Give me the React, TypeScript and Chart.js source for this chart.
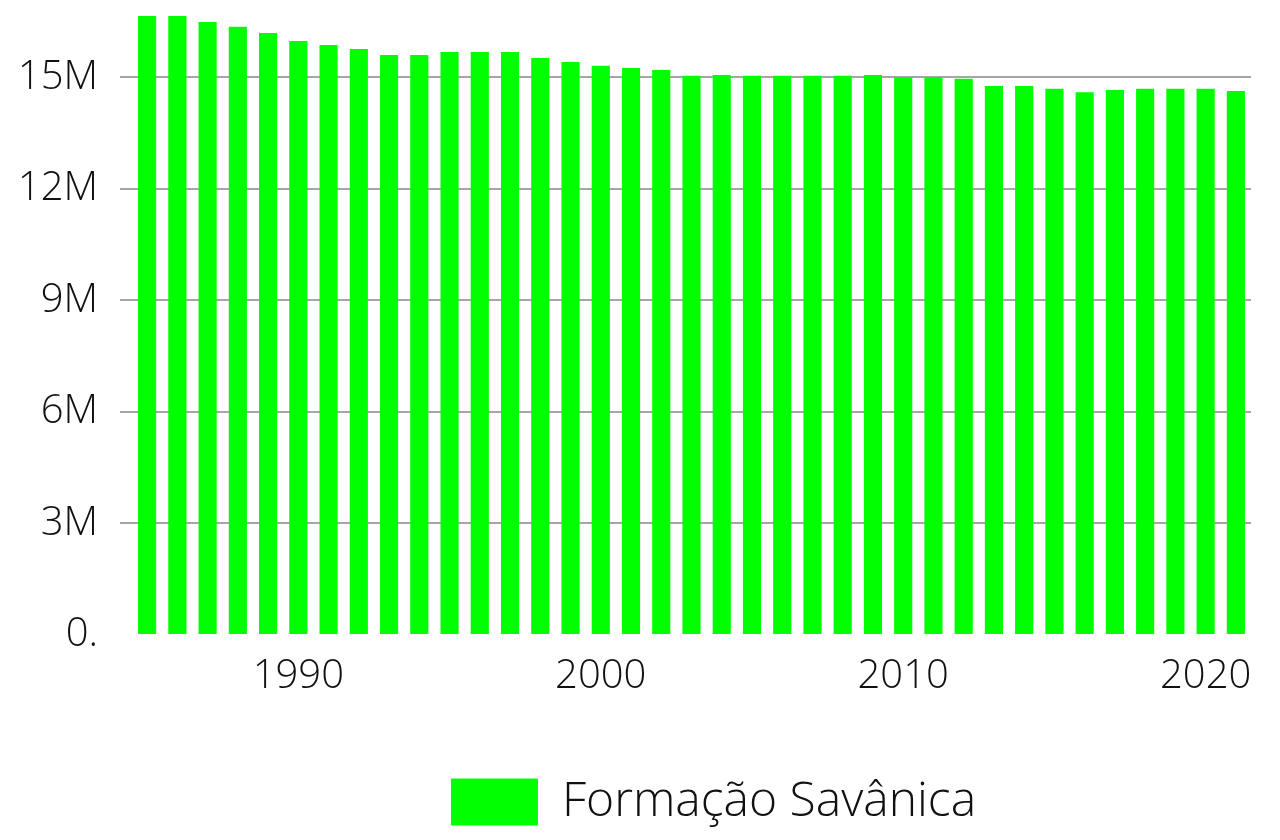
import React, { useEffect, useRef } from "react";
import { Chart, registerables } from "chart.js";

Chart.register(...registerables);

const years: string[] = [
  "1985","1986","1987","1988","1989","1990","1991","1992","1993","1994",
  "1995","1996","1997","1998","1999","2000","2001","2002","2003","2004",
  "2005","2006","2007","2008","2009","2010","2011","2012","2013","2014",
  "2015","2016","2017","2018","2019","2020","2021",
];

const savanica: number[] = [
  16.65e6, 16.65e6, 16.49e6, 16.36e6, 16.19e6, 15.98e6, 15.87e6, 15.76e6, 15.6e6, 15.6e6,
  15.68e6, 15.68e6, 15.68e6, 15.52e6, 15.41e6, 15.31e6, 15.25e6, 15.2e6, 15.04e6, 15.06e6,
  15.04e6, 15.04e6, 15.04e6, 15.04e6, 15.06e6, 15.01e6, 15.01e6, 14.96e6, 14.77e6, 14.77e6,
  14.69e6, 14.6e6, 14.66e6, 14.69e6, 14.69e6, 14.69e6, 14.63e6,
];

const yTickValues: number[] = [0, 3e6, 6e6, 9e6, 12e6, 15e6];
const xTickLabels: string[] = ["1990", "2000", "2010", "2020"];
const seriesLabel = "Formação Savânica";

const FONT = "'Open Sans', 'Noto Sans', sans-serif";

const legendShift = {
  id: "legendShift",
  afterLayout(chart: any) {
    if (chart.legend) {
      chart.legend.left += 88;
      chart.legend.right += 88;
    }
  },
};

export default function App() {
  const ref = useRef<HTMLCanvasElement | null>(null);
  useEffect(() => {
    if (!ref.current) return;
    const chart = new Chart(ref.current, {
      type: "bar",
      data: {
        labels: years,
        datasets: [
          {
            label: seriesLabel,
            data: savanica,
            backgroundColor: "#00ff00",
            borderWidth: 0,
            barPercentage: 0.6,
            categoryPercentage: 1,
          },
        ],
      },
      plugins: [legendShift],
      options: {
        animation: false,
        responsive: false,
        maintainAspectRatio: false,
        layout: { padding: { top: 16, right: 29, left: 0, bottom: 4 } },
        plugins: {
          tooltip: { enabled: false },
          legend: {
            position: "bottom",
            labels: {
              boxWidth: 87,
              boxHeight: 47,
              padding: 10,
              color: "#111",
              font: { family: FONT, size: 48, weight: 300 as any },
            },
          },
        },
        scales: {
          x: {
            grid: { display: false, drawTicks: false },
            border: { display: false },
            ticks: {
              autoSkip: false,
              maxRotation: 0,
              padding: 18,
              color: "#111",
              font: { family: FONT, size: 40, weight: 300 as any },
              callback: (_v: any, i: number) =>
                xTickLabels.includes(years[i]) ? years[i] : "",
            },
            afterFit: (s: any) => {
              s.height = 133;
            },
          },
          y: {
            min: 0,
            max: Math.max(...savanica),
            border: { display: false },
            grid: {
              color: (ctx: any) =>
                ctx.tick && ctx.tick.value === 0 ? "rgba(0,0,0,0)" : "#a6a6a6",
              lineWidth: 2,
              tickLength: 12,
            },
            afterBuildTicks: (s: any) => {
              s.ticks = yTickValues.map((v) => ({ value: v }));
            },
            ticks: {
              padding: 22,
              color: "#111",
              font: { family: FONT, size: 40, weight: 300 as any },
              callback: (v: any) => (v === 0 ? "0." : v / 1e6 + "M"),
            },
            afterFit: (s: any) => {
              s.width = 132;
              s.paddingTop = 0;
              s.paddingBottom = 0;
            },
          },
        },
      },
    });
    return () => chart.destroy();
  }, []);
  return (
    <div style={{ position: "fixed", left: 0, top: 0, width: 1280, height: 840 }}>
      <canvas ref={ref} width={1280} height={840} style={{ width: 1280, height: 840 }} />
    </div>
  );
}
